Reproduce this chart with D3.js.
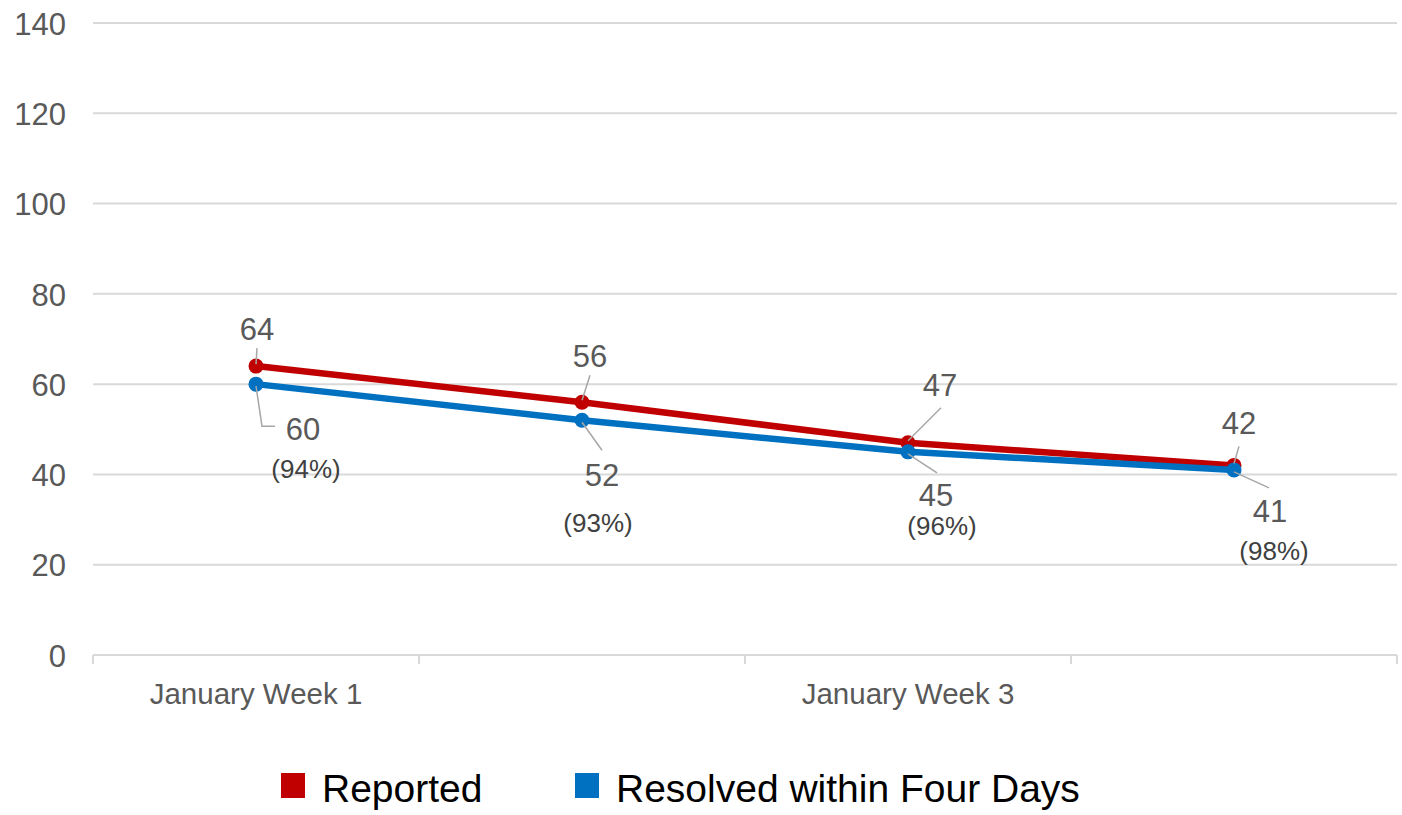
<!DOCTYPE html>
<html>
<head>
<meta charset="utf-8">
<script src="https://cdn.jsdelivr.net/npm/d3@7/dist/d3.min.js"></script>
<style>
  html, body { margin: 0; padding: 0; background: #ffffff; }
  svg { display: block; }
</style>
</head>
<body>
<svg id="chart" width="1402" height="815"></svg>
<script>
// Weekly counts
const categories = ["January Week 1", "January Week 2", "January Week 3", "January Week 4"];
const reported = [64, 56, 47, 42];
const resolved = [60, 52, 45, 41];
const resolvedPct = [94, 93, 96, 98];
const yTicks = [0, 20, 40, 60, 80, 100, 120, 140];
const shownCategoryLabels = ["January Week 1", "January Week 3"];

const seriesNames = ["Reported", "Resolved within Four Days"];
const seriesColors = ["#C00000", "#0070C0"];

const svg = d3.select("#chart");
const plot = { left: 93, right: 1397, top: 23, bottom: 655 };

const x = d3.scaleBand().domain(categories).range([plot.left, plot.right]).paddingInner(0).paddingOuter(0);
const cx = d => x(d) + x.bandwidth() / 2;
const y = d3.scaleLinear().domain([0, 140]).range([plot.bottom, plot.top]);

const textColor = "#595959";
const fontFamily = "'Liberation Sans', Arial, sans-serif";

// Horizontal gridlines
svg.append("g")
  .selectAll("line")
  .data(yTicks.filter(t => t > 0))
  .join("line")
  .attr("x1", plot.left).attr("x2", plot.right)
  .attr("y1", d => y(d)).attr("y2", d => y(d))
  .attr("stroke", "#d9d9d9").attr("stroke-width", 2);

// Y axis labels
const yAxis = svg.append("g")
  .attr("transform", `translate(${plot.left},0)`)
  .call(d3.axisLeft(y).tickValues(yTicks).tickSize(0).tickPadding(27));
yAxis.select(".domain").remove();
yAxis.selectAll("text")
  .attr("fill", textColor)
  .style("font-family", fontFamily)
  .style("font-size", "31px")
  .attr("dy", "0.36em");

// X axis with category boundary ticks
const boundaries = categories.map(c => x(c)).concat([x(categories[categories.length - 1]) + x.bandwidth()]);
const xg = svg.append("g");
xg.append("line")
  .attr("x1", plot.left).attr("x2", plot.right)
  .attr("y1", y(0)).attr("y2", y(0))
  .attr("stroke", "#d9d9d9").attr("stroke-width", 2);
xg.selectAll("line.tick")
  .data(boundaries)
  .join("line")
  .attr("class", "tick")
  .attr("x1", d => d).attr("x2", d => d)
  .attr("y1", y(0)).attr("y2", y(0) + 9)
  .attr("stroke", "#d9d9d9").attr("stroke-width", 2);
xg.selectAll("text")
  .data(categories.filter(c => shownCategoryLabels.includes(c)))
  .join("text")
  .attr("x", d => cx(d))
  .attr("y", 704)
  .attr("text-anchor", "middle")
  .attr("fill", textColor)
  .style("font-family", fontFamily)
  .style("font-size", "29.5px")
  .text(d => d);

// Lines and markers
const line = d3.line().x((d, i) => cx(categories[i])).y(d => y(d));
[reported, resolved].forEach((vals, s) => {
  svg.append("path")
    .datum(vals)
    .attr("d", line)
    .attr("fill", "none")
    .attr("stroke", seriesColors[s])
    .attr("stroke-width", 6.5)
    .attr("stroke-linejoin", "round");
  svg.append("g")
    .selectAll("circle")
    .data(vals)
    .join("circle")
    .attr("cx", (d, i) => cx(categories[i]))
    .attr("cy", d => y(d))
    .attr("r", 7.5)
    .attr("fill", seriesColors[s]);
});

// Data label placement (offsets from each point)
const reportedLabelLayout = [
  { dx: 1,  dy: -26, leader: [[1, -18], [0, -2]] },
  { dx: 8,  dy: -35, leader: [[8, -27], [0, -2]] },
  { dx: 32, dy: -47, leader: [[33, -35], [0, -2]] },
  { dx: 5,  dy: -31, leader: [[5, -19], [0, -2]] }
];
const resolvedLabelLayout = [
  { dx: 47, dy: 56,  pdx: 50, pdy: 94, leader: [[0, 2], [6, 42], [19, 42]] },
  { dx: 20, dy: 66,  pdx: 16, pdy: 112, leader: [[0, 2], [20, 30]] },
  { dx: 28, dy: 54,  pdx: 34, pdy: 83, leader: [[0, 2], [29, 21]] },
  { dx: 36, dy: 52,  pdx: 40, pdy: 90, leader: [[0, 2], [35, 18]] }
];

const leaderLine = d3.line();
const labels = svg.append("g");

reported.forEach((v, i) => {
  const px = cx(categories[i]), py = y(v);
  const L = reportedLabelLayout[i];
  labels.append("path")
    .attr("d", leaderLine(L.leader.map(p => [px + p[0], py + p[1]])))
    .attr("fill", "none").attr("stroke", "#a6a6a6").attr("stroke-width", 1.5);
  labels.append("text")
    .attr("x", px + L.dx).attr("y", py + L.dy)
    .attr("text-anchor", "middle")
    .attr("fill", textColor)
    .style("font-family", fontFamily).style("font-size", "31px")
    .text(v);
});

resolved.forEach((v, i) => {
  const px = cx(categories[i]), py = y(v);
  const L = resolvedLabelLayout[i];
  labels.append("path")
    .attr("d", leaderLine(L.leader.map(p => [px + p[0], py + p[1]])))
    .attr("fill", "none").attr("stroke", "#a6a6a6").attr("stroke-width", 1.5);
  labels.append("text")
    .attr("x", px + L.dx).attr("y", py + L.dy)
    .attr("text-anchor", "middle")
    .attr("fill", textColor)
    .style("font-family", fontFamily).style("font-size", "31px")
    .text(v);
  labels.append("text")
    .attr("x", px + L.pdx).attr("y", py + L.pdy)
    .attr("text-anchor", "middle")
    .attr("fill", "#404040")
    .style("font-family", fontFamily).style("font-size", "26px")
    .text(`(${resolvedPct[i]}%)`);
});

// Legend
const legendItems = [
  { name: seriesNames[0], color: seriesColors[0], x: 281 },
  { name: seriesNames[1], color: seriesColors[1], x: 575 }
];
const legend = svg.append("g");
legendItems.forEach(item => {
  legend.append("rect")
    .attr("x", item.x).attr("y", 773)
    .attr("width", 24).attr("height", 25)
    .attr("fill", item.color);
  legend.append("text")
    .attr("x", item.x + 41).attr("y", 802)
    .attr("fill", "#000000")
    .style("font-family", fontFamily).style("font-size", "39px")
    .text(item.name);
});
</script>
</body>
</html>
